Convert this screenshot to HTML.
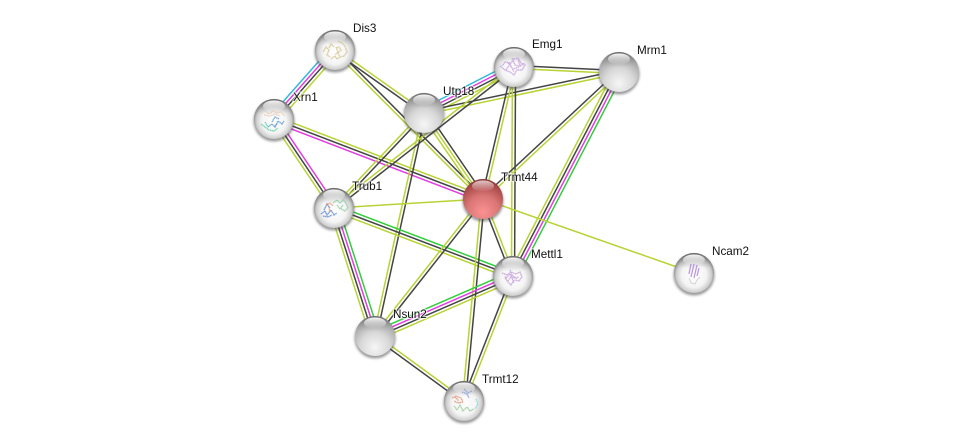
<!DOCTYPE html>
<html><head><meta charset="utf-8"><style>
html,body{margin:0;padding:0;background:#fff;width:975px;height:446px;overflow:hidden}
svg{display:block}
text{font-family:"Liberation Sans",Arial,sans-serif;font-size:11.7px;fill:#111;stroke:#fff;stroke-opacity:.65;stroke-width:2.2px;paint-order:stroke;stroke-linejoin:round}
.p{fill:none;stroke-width:1.4px;stroke-dasharray:1.4 .4;opacity:.75}
</style></head><body>
<svg id="s" xmlns="http://www.w3.org/2000/svg" width="975" height="446" viewBox="0 0 975 446">
<defs>
<radialGradient id="gp" cx=".5" cy=".78" r=".82"><stop offset="0" stop-color="#f6f6f6"/><stop offset=".45" stop-color="#d8d8d8"/><stop offset=".8" stop-color="#a8a8a8"/><stop offset="1" stop-color="#7e7e7e"/></radialGradient>
<radialGradient id="gs" cx=".5" cy=".55" r=".53"><stop offset="0" stop-color="#fff"/><stop offset=".58" stop-color="#f4f4f4"/><stop offset=".83" stop-color="#cecece"/><stop offset="1" stop-color="#7e7e7e"/></radialGradient>
<radialGradient id="gr" cx=".5" cy=".82" r=".88"><stop offset="0" stop-color="#fb9292"/><stop offset=".45" stop-color="#da7676"/><stop offset=".8" stop-color="#a84848"/><stop offset="1" stop-color="#762828"/></radialGradient>
<linearGradient id="hl" x1="0" y1="0" x2="0" y2="1"><stop offset="0" stop-color="#fff" stop-opacity=".95"/><stop offset="1" stop-color="#fff" stop-opacity="0"/></linearGradient>
<linearGradient id="tp" x1="0" y1="0" x2="0" y2="1"><stop offset="0" stop-color="#686868" stop-opacity=".9"/><stop offset=".38" stop-color="#a0a0a0" stop-opacity="0"/></linearGradient>
<filter id="b" x="-30%" y="-30%" width="160%" height="160%"><feGaussianBlur stdDeviation="1.2"/></filter>
<g id="sh"><circle cx="0" cy="2" r="20.5" fill="#444" opacity=".55" filter="url(#b)"/></g>
<g id="hi"><circle r="20" fill="url(#tp)"/><ellipse cx="0" cy="-13" rx="11" ry="5.5" fill="url(#hl)"/></g>
</defs>
<g id="e" fill="none" stroke-width="1.5"></g>

<g transform="translate(335,50)"><use href="#sh"/><circle r="20" fill="url(#gs)"/>
<use href="#hi"/><path class="p" d="M-12,2l3,-5 3,3 -2,5 3,2M-6,-2l2,-4 3,3M3,-9l4,2 3,3 2,6 -3,4 -4,1 -2,-4 3,-3 -2,-3 -3,1M-4,9l4,-3 2,3 3,-2M1,-3l2,5 -3,3" stroke="#d0bd80"/></g>

<g transform="translate(274,119)"><use href="#sh"/><circle r="20" fill="url(#gs)"/>
<use href="#hi"/><path class="p" d="M-9,-8l4,3 4,-3 4,2 4,-1 4,4M-10,-4l6,1 5,-2 5,2" stroke="#e8c8b0"/>
<path class="p" d="M-6,8l4,-3 3,3 3,-6 4,3 2,-3M-2,3l3,-5 4,2M0,8l3,-3" stroke="#5090c8"/>
<path class="p" d="M-13,5l4,3 4,3 5,1 4,-3M-9,3l3,5" stroke="#50d0a0"/></g>

<g transform="translate(424,113)"><use href="#sh"/><circle r="20" fill="url(#gp)"/><use href="#hi"/></g>

<g transform="translate(514,67)"><use href="#sh"/><circle r="20" fill="url(#gs)"/>
<use href="#hi"/><path class="p" d="M-14,-1l5,4 5,2 4,3 3,-5 5,0 3,-5 -4,-2 -3,-5 -4,1 -3,4 -6,-1 -3,4M-6,-4l5,6 6,-2M-2,-9l3,7 4,1M-8,3l4,-6 4,8M4,-8l2,7 5,-3" stroke="#c098d8"/></g>

<g transform="translate(619,72)"><use href="#sh"/><circle r="20" fill="url(#gp)"/><use href="#hi"/></g>

<g transform="translate(483,199)"><use href="#sh"/><circle r="20" fill="url(#gr)"/><ellipse cx="0" cy="-13" rx="11" ry="5.5" fill="url(#hl)" opacity=".75"/></g>

<g transform="translate(334,208)"><use href="#sh"/><circle r="20" fill="url(#gs)"/>
<use href="#hi"/><path class="p" d="M-13,6l4,-3 2,4 4,-5 3,5 3,-2M-10,2l3,-6 3,4M-11,8l5,1 4,-2" stroke="#4f7fc8"/>
<path class="p" d="M-1,-5l4,-3 3,3 3,-3 3,3 2,5 -3,3 -4,-2M3,-3l3,4 3,-4" stroke="#80c898"/>
<path class="p" d="M-8,-3l4,-2 3,3M-5,-1l1,5" stroke="#e89060"/></g>

<g transform="translate(513,276)"><use href="#sh"/><circle r="20" fill="url(#gs)"/>
<use href="#hi"/><path class="p" d="M-11,-3l5,2 4,-3 5,2 4,-2 2,5 -3,4 -5,-1 -3,5 -4,-4 -2,-5M-5,5l4,-6 5,4M-3,-6l3,8 6,-1M-8,3l5,-5 4,9" stroke="#c098d8"/></g>

<g transform="translate(694,273)"><use href="#sh"/><circle r="20" fill="url(#gs)"/>
<use href="#hi"/><path d="M-3,-9l-2,10M0,-9l-3,13M3,-8l-3,13M5,-5l-2,8" fill="none" stroke="#b088d8" stroke-width="1.3" opacity=".85"/>
<path d="M-5,5l2,5 4,1 2,-4 3,-3" fill="none" stroke="#d0d0d0" stroke-width=".9"/></g>

<g transform="translate(375,336)"><use href="#sh"/><circle r="20" fill="url(#gp)"/><use href="#hi"/></g>

<g transform="translate(464,401)"><use href="#sh"/><circle r="20" fill="url(#gs)"/>
<use href="#hi"/><path class="p" d="M0,-12l4,4 4,-2M-2,-9l5,2 2,4" stroke="#8098d8"/>
<path class="p" d="M-12,-3l4,-2 5,2 2,4 -5,1 -4,-2M-9,-4l4,4" stroke="#e08868"/>
<path class="p" d="M-10,5l3,4 3,-5 3,6 4,-4 3,4 4,-2" stroke="#90c890"/>
<path class="p" d="M12,-2l2,5 -3,5" stroke="#80d0e0"/></g>

<text x="353" y="32">Dis3</text>
<text x="293" y="101">Xrn1</text>
<text x="443" y="95">Utp18</text>
<text x="532" y="48">Emg1</text>
<text x="637" y="54">Mrm1</text>
<text x="501" y="181">Trmt44</text>
<text x="352" y="190">Trub1</text>
<text x="531" y="258">Mettl1</text>
<text x="712" y="255">Ncam2</text>
<text x="393" y="318">Nsun2</text>
<text x="482" y="383">Trmt12</text>
</svg>
<script>
var N={D:[335,50],X:[274,119],U:[424,113],E:[514,67],M:[619,72],T:[483,199],B:[334,208],L:[513,276],C:[694,273],S:[375,336],R:[464,401]};
var y="#b7d334",d="#444444",m="#e23ce2",c="#2fb8d8",g="#2fcf3a";
var E=[
["D","X",[y,d,m,c]],["D","U",[y,d]],["D","T",[d,y]],
["X","B",[m,d,y]],["X","T",[y,d,m]],
["U","E",[c,m,d,y]],["U","M",[d,y]],["U","T",[d,y,y]],["U","B",[d,y]],["U","S",[d,y]],
["E","B",[d,y]],["E","M",[d,y]],["E","T",[y,d]],["E","L",[d,y]],
["M","T",[y,d]],["M","L",[g,m,d,y]],
["B","T",[y]],["B","L",[g,d,y]],["B","S",[g,m,d,y]],
["T","L",[y,d]],["T","S",[d,y]],["T","R",[d,y]],["T","C",[y]],
["L","S",[y,d,m,g]],["L","R",[y,d]],["S","R",[y,d]]
];
var G=document.getElementById("e"),sp=3.1;
E.forEach(function(e){
var a=N[e[0]],b=N[e[1]],dx=b[0]-a[0],dy=b[1]-a[1],l=Math.hypot(dx,dy),nx=-dy/l,ny=dx/l,k=e[2];
k.forEach(function(col,i){
var o=(i-(k.length-1)/2)*sp,p=document.createElementNS("http://www.w3.org/2000/svg","line");
p.setAttribute("x1",a[0]+nx*o);p.setAttribute("y1",a[1]+ny*o);
p.setAttribute("x2",b[0]+nx*o);p.setAttribute("y2",b[1]+ny*o);
p.setAttribute("stroke",col);G.appendChild(p);
});
});
</script>
</body></html>
